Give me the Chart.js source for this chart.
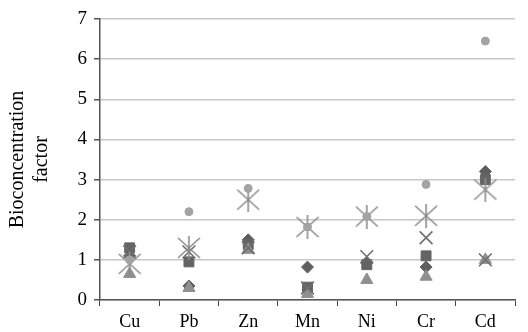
<!DOCTYPE html>
<html>
<head>
<meta charset="utf-8">
<script src="https://cdn.jsdelivr.net/npm/chart.js@4.4.1/dist/chart.umd.min.js"></script>
<style>
  html, body { margin: 0; padding: 0; background: #fff; }
  canvas { display: block; }
</style>
</head>
<body>
<canvas id="chart" width="528" height="332"></canvas>
<script>
const metals = ["Cu", "Pb", "Zn", "Mn", "Ni", "Cr", "Cd"];
const yTicks = [0, 1, 2, 3, 4, 5, 6, 7];

const diamondVals  = [1.10, 0.35, 1.50, 0.82, 0.92, 0.82, 3.20];
const squareVals   = [1.30, 0.95, 1.38, 0.32, 0.88, 1.10, 3.00];
const triangleVals = [0.65, 0.30, 1.25, 0.15, 0.50, 0.58, 1.00];
const crossVals    = [1.20, 1.20, 1.30, 0.30, 1.08, 1.55, 1.00];
const starVals     = [0.90, 1.30, 2.50, 1.82, 2.08, 2.10, 2.75];
const circleVals   = [1.00, 2.20, 2.78, 1.82, 2.08, 2.88, 6.45];

const serif = "'Liberation Serif', 'DejaVu Serif', serif";

// Excel style star: an X with a vertical bar
const makeStar = (size, color) => {
  const c = document.createElement("canvas");
  c.width = size;
  c.height = size;
  const g = c.getContext("2d");
  g.strokeStyle = color;
  g.lineWidth = 1.6;
  g.beginPath();
  g.moveTo(1, 2); g.lineTo(size - 1, size - 2);
  g.moveTo(size - 1, 2); g.lineTo(1, size - 2);
  g.moveTo(size / 2, 0); g.lineTo(size / 2, size);
  g.stroke();
  return c;
};

const series = (data, style, color, radius, extra) => Object.assign({
  data: data,
  showLine: false,
  pointStyle: style,
  pointRadius: radius,
  pointHoverRadius: radius,
  pointBackgroundColor: color,
  pointBorderColor: color,
  pointBorderWidth: 1
}, extra || {});

const ctx = document.getElementById("chart").getContext("2d");

new Chart(ctx, {
  type: "line",
  data: {
    labels: metals,
    datasets: [
      series(circleVals, "circle", "#a3a3a3", 4),
      series(starVals, makeStar(24, "#8c8c8c"), "#8c8c8c", 12),
      series(crossVals, "crossRot", "#6e6e6e", 9, { pointBorderWidth: 1.6 }),
      series(triangleVals, "triangle", "#8f8f8f", 7),
      series(squareVals, "rect", "#646464", 7),
      series(diamondVals, "rectRot", "#5e5e5e", 6)
    ]
  },
  options: {
    responsive: false,
    animation: false,
    layout: { padding: { top: 19, right: 1, bottom: 0, left: 0 } },
    plugins: { legend: { display: false }, tooltip: { enabled: false } },
    scales: {
      x: {
        offset: true,
        grid: {
          offset: true,
          drawOnChartArea: false,
          drawTicks: true,
          tickLength: 6,
          tickColor: "#444"
        },
        border: { color: "#555", width: 1.5 },
        ticks: {
          color: "#000",
          font: { family: serif, size: 18 },
          padding: 5
        },
        afterFit: (s) => { s.height = 32; }
      },
      y: {
        min: 0,
        max: 7,
        afterBuildTicks: (s) => { s.ticks = yTicks.map(v => ({ value: v })); },
        grid: {
          color: "#c8c8c8",
          lineWidth: 1.5,
          tickLength: 6,
          tickColor: "#555"
        },
        border: { color: "#555", width: 1.5 },
        ticks: {
          color: "#000",
          font: { family: serif, size: 19 },
          padding: 7
        },
        title: {
          display: true,
          text: ["Bioconcentration", "factor"],
          color: "#000",
          font: { family: serif, size: 20, lineHeight: 1.2 },
          padding: { top: 6, bottom: 0 }
        },
        afterFit: (s) => { s.width = 100; }
      }
    }
  }
});
</script>
</body>
</html>
